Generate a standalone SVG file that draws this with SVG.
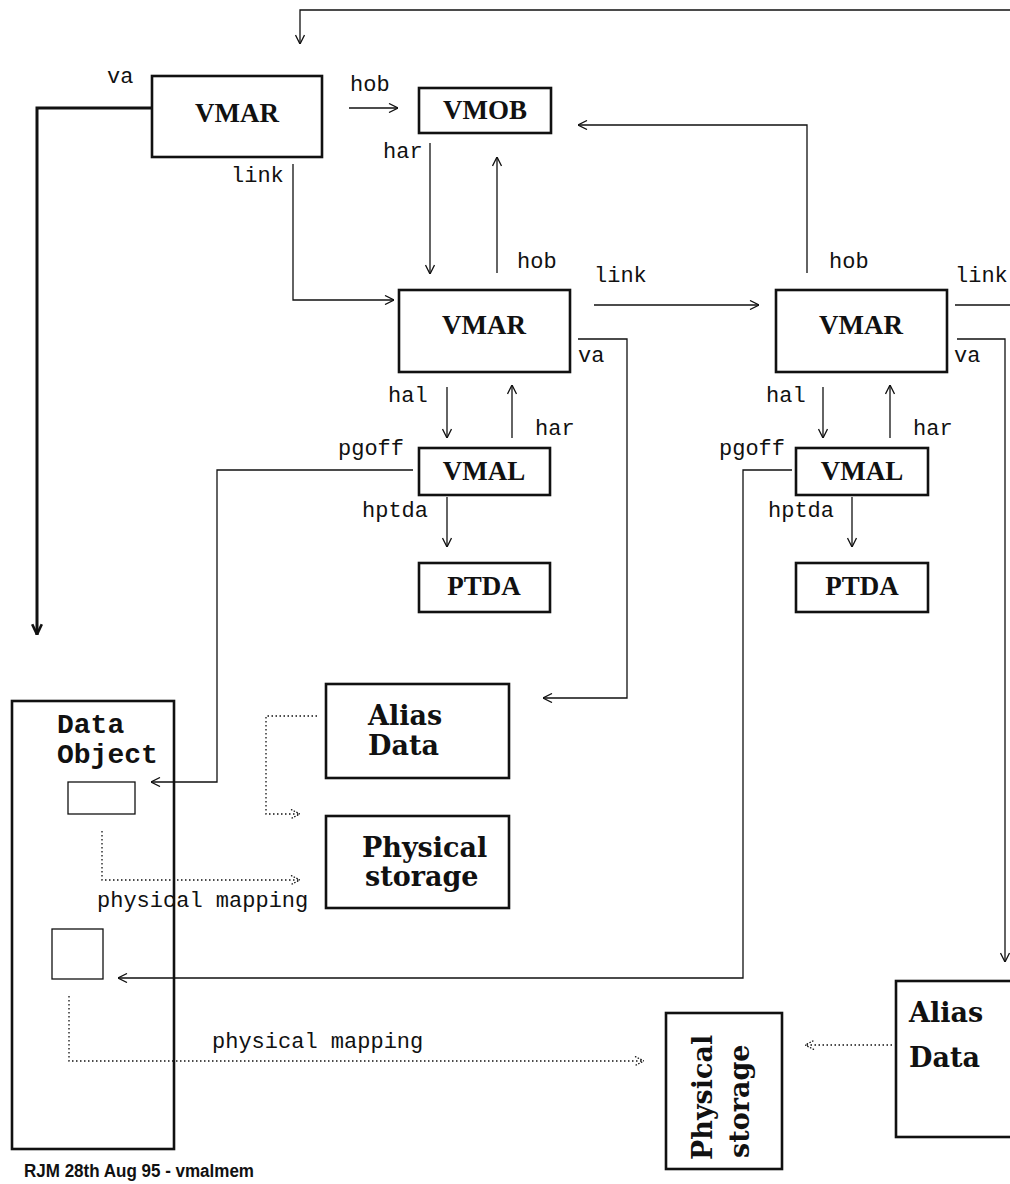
<svg xmlns="http://www.w3.org/2000/svg" width="1010" height="1184" viewBox="0 0 1010 1184">
<style>
.box{fill:#fff;stroke:#111;stroke-width:2.6}
.obox{fill:none;stroke:#111;stroke-width:2.6}
.sm{fill:none;stroke:#111;stroke-width:1.3}
.c{fill:none;stroke:#111;stroke-width:1.3}
.ck{fill:none;stroke:#111;stroke-width:3}
.d{fill:none;stroke:#111;stroke-width:1.3;stroke-dasharray:1.5 2.5}
.t{font-family:"Liberation Serif",serif;font-weight:bold;font-size:27px;text-anchor:middle;fill:#111}
.b{font-family:"DejaVu Serif",serif;font-weight:bold;font-size:27px;fill:#111}
.m{font-family:"Liberation Mono",monospace;font-size:22px;fill:#111}
.mb{font-family:"Liberation Mono",monospace;font-weight:bold;font-size:28px;fill:#111}
.f{font-family:"Liberation Sans",sans-serif;font-weight:bold;font-size:18px;fill:#111}
</style>
<defs>
<marker id="ah" viewBox="0 0 10 10" refX="10" refY="5" markerWidth="10" markerHeight="10" markerUnits="userSpaceOnUse" orient="auto"><path d="M1,0.5 L10,5 L1,9.5" fill="none" stroke="#111" stroke-width="1.3"/></marker>
<marker id="ahb" viewBox="0 0 10 10" refX="10" refY="5" markerWidth="12" markerHeight="12" markerUnits="userSpaceOnUse" orient="auto"><path d="M1,1 L9.5,5 L1,9" fill="none" stroke="#111" stroke-width="2.2"/></marker>
<marker id="ahd" viewBox="0 0 10 10" refX="10" refY="5" markerWidth="10" markerHeight="10" markerUnits="userSpaceOnUse" orient="auto"><path d="M1,0.5 L10,5 L1,9.5" fill="none" stroke="#111" stroke-width="1.3" stroke-dasharray="1.5 1.5"/></marker>
</defs>

<g id="vmar1"><rect class="box" x="152" y="76" width="170" height="81"/><text class="t" x="237" y="122">VMAR</text></g>
<g id="vmob"><rect class="box" x="419" y="88" width="132" height="45"/><text class="t" x="485" y="119">VMOB</text></g>
<g id="vmar2"><rect class="box" x="399" y="290" width="171" height="82"/><text class="t" x="484" y="334">VMAR</text></g>
<g id="vmar3"><rect class="box" x="776" y="290" width="171" height="82"/><text class="t" x="861" y="334">VMAR</text></g>
<g id="vmal1"><rect class="box" x="419" y="448" width="131" height="47"/><text class="t" x="484" y="480">VMAL</text></g>
<g id="ptda1"><rect class="box" x="419" y="563" width="131" height="49"/><text class="t" x="484" y="595">PTDA</text></g>
<g id="vmal2"><rect class="box" x="796" y="448" width="132" height="47"/><text class="t" x="862" y="480">VMAL</text></g>
<g id="ptda2"><rect class="box" x="796" y="563" width="132" height="49"/><text class="t" x="862" y="595">PTDA</text></g>
<g id="dataobject"><rect class="obox" x="12" y="701" width="162" height="448"/><text class="mb" x="57" y="733">Data</text><text class="mb" x="57" y="763">Object</text></g>
<g id="region1"><rect class="sm" x="68" y="782" width="67" height="32"/></g>
<g id="region2"><rect class="sm" x="52" y="929" width="51" height="50"/></g>
<g id="aliasdata1"><rect class="box" x="326" y="684" width="183" height="94"/><text class="b" x="368" y="725">Alias</text><text class="b" x="368" y="755">Data</text></g>
<g id="physical1"><rect class="box" x="326" y="816" width="183" height="92"/><text class="b" x="362" y="857" font-size="28">Physical</text><text class="b" x="365" y="886" font-size="28">storage</text></g>
<g id="physical2"><rect class="box" x="666" y="1013" width="116" height="156"/><text class="b" font-size="28" transform="translate(712,1160) rotate(-90)">Physical</text><text class="b" font-size="28" transform="translate(749,1158) rotate(-90)">storage</text></g>
<g id="aliasdata2"><rect class="box" x="896" y="981" width="140" height="156"/><text class="b" x="909" y="1022">Alias</text><text class="b" x="909" y="1067">Data</text></g>

<g id="connectors">
<path class="c" d="M1010,10 H300 V44" marker-end="url(#ah)"/>
<path class="ck" d="M152,108 H37 V635" marker-end="url(#ahb)"/>
<path class="c" d="M349,108 H398" marker-end="url(#ah)"/>
<path class="c" d="M293,164 V300 H394" marker-end="url(#ah)"/>
<path class="c" d="M430,143 V274" marker-end="url(#ah)"/>
<path class="c" d="M497,273 V157" marker-end="url(#ah)"/>
<path class="c" d="M807,273 V125 H578" marker-end="url(#ah)"/>
<path class="c" d="M594,305 H759" marker-end="url(#ah)"/>
<path class="c" d="M955,305 H1010"/>
<path class="c" d="M578,339 H627 V698 H543" marker-end="url(#ah)"/>
<path class="c" d="M957,339 H1005 V962" marker-end="url(#ah)"/>
<path class="c" d="M447,387 V438" marker-end="url(#ah)"/>
<path class="c" d="M512,438 V385" marker-end="url(#ah)"/>
<path class="c" d="M447,497 V547" marker-end="url(#ah)"/>
<path class="c" d="M823,387 V438" marker-end="url(#ah)"/>
<path class="c" d="M890,438 V385" marker-end="url(#ah)"/>
<path class="c" d="M852,497 V547" marker-end="url(#ah)"/>
<path class="c" d="M413,470 H217 V782 H151" marker-end="url(#ah)"/>
<path class="c" d="M792,470 H743 V978 H118" marker-end="url(#ah)"/>
<path class="d" d="M102,831 V880 H300" marker-end="url(#ahd)"/>
<path class="d" d="M317,716 H266 V814 H300" marker-end="url(#ahd)"/>
<path class="d" d="M69,996 V1061 H644" marker-end="url(#ahd)"/>
<path class="d" d="M892,1045 H805" marker-end="url(#ahd)"/>
<text class="m" x="107" y="83">va</text>
<text class="m" x="350" y="91">hob</text>
<text class="m" x="231" y="182">link</text>
<text class="m" x="383" y="158">har</text>
<text class="m" x="517" y="268">hob</text>
<text class="m" x="594" y="282">link</text>
<text class="m" x="829" y="268">hob</text>
<text class="m" x="955" y="282">link</text>
<text class="m" x="578" y="362">va</text>
<text class="m" x="954" y="362">va</text>
<text class="m" x="388" y="402">hal</text>
<text class="m" x="535" y="435">har</text>
<text class="m" x="338" y="455">pgoff</text>
<text class="m" x="362" y="517">hptda</text>
<text class="m" x="766" y="402">hal</text>
<text class="m" x="913" y="435">har</text>
<text class="m" x="719" y="455">pgoff</text>
<text class="m" x="768" y="517">hptda</text>
<text class="m" x="97" y="907">physical mapping</text>
<text class="m" x="212" y="1048">physical mapping</text>
</g>
<text class="f" x="24" y="1177" textLength="230" lengthAdjust="spacingAndGlyphs">RJM 28th Aug 95 - vmalmem</text>
</svg>
